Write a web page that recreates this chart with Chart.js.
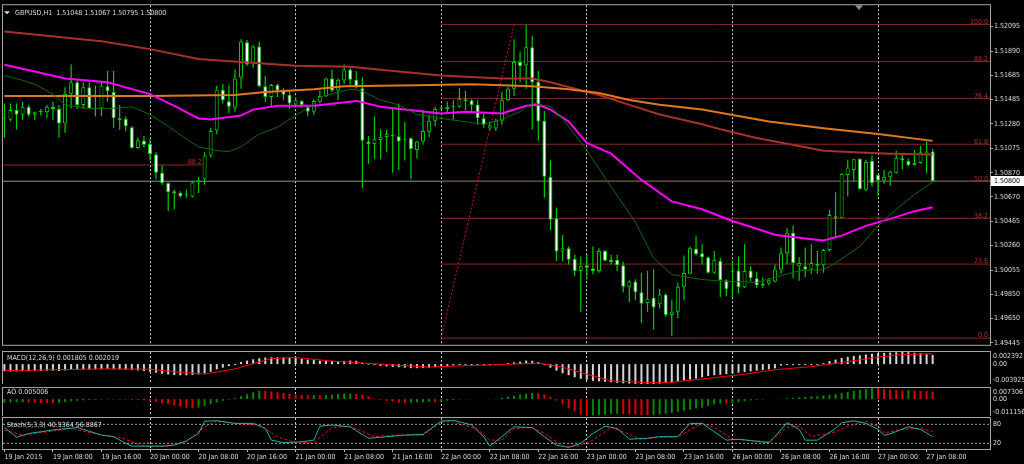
<!DOCTYPE html>
<html>
<head>
<meta charset="utf-8">
<script src="https://cdn.jsdelivr.net/npm/chart.js"></script>
<style>
  html, body { margin: 0; padding: 0; background: #000; }
  body { width: 1024px; height: 464px; position: relative; overflow: hidden; }
  canvas { position: absolute; left: 0; }
</style>
</head>
<body>
<canvas id="mainChart" width="1024" height="350" style="top:0px"></canvas>
<canvas id="macdChart" width="1024" height="34" style="top:350px"></canvas>
<canvas id="aoChart" width="1024" height="31" style="top:385px"></canvas>
<canvas id="stochChart" width="1024" height="48" style="top:416px"></canvas>
<script>
// GBPUSD H1, 19 Jan 2015 00:00 .. 27 Jan 2015 09:00 (154 bars)
const candleOpen = [
  1.51326,1.51315,1.51397,1.51356,1.51424,1.51356,1.51383,1.51377,1.51424,1.51405,
  1.51283,1.51533,1.51629,1.51438,1.51588,1.51410,1.51410,1.51596,1.51547,1.51328,
  1.51324,1.51252,1.51078,1.51138,1.51111,1.51023,1.50870,1.50784,1.50715,1.50702,
  1.50688,1.50669,1.50789,1.50816,1.51015,1.51225,1.51566,1.51471,1.51416,1.51670,
  1.51964,1.51792,1.51929,1.51596,1.51506,1.51607,1.51561,1.51525,1.51443,1.51473,
  1.51424,1.51383,1.51465,1.51514,1.51661,1.51561,1.51643,1.51737,1.51651,1.51580,
  1.51132,1.51111,1.51146,1.51171,1.51189,1.51176,1.51146,1.51160,1.51062,1.51132,
  1.51214,1.51307,1.51410,1.51405,1.51424,1.51424,1.51487,1.51479,1.51443,1.51328,
  1.51242,1.51242,1.51307,1.51479,1.51574,1.51798,1.51770,1.51923,1.51634,1.51307,
  1.50838,1.50489,1.50211,1.50238,1.50150,1.50047,1.50096,1.50069,1.50047,1.50216,
  1.50142,1.50142,1.50096,1.49911,1.49960,1.49870,1.49780,1.49823,1.49769,1.49851,
  1.49679,1.49706,1.49916,1.50025,1.50234,1.50197,1.50162,1.50033,1.50134,1.49970,
  1.50042,1.50052,1.49911,1.50052,1.49987,1.49943,1.49943,1.49960,1.50060,1.50197,
  1.50369,1.50088,1.50088,1.50060,1.50088,1.50096,1.50224,1.50489,1.50489,1.50852,
  1.50893,1.50988,1.50729,1.50969,1.50852,1.50805,1.50833,1.50870,1.50993,1.50969,
  1.50933,1.50952,1.51021,1.51048];
const candleHigh = [
  1.51451,1.51451,1.51451,1.51465,1.51438,1.51383,1.51405,1.51438,1.51465,1.51438,
  1.51588,1.51778,1.51643,1.51629,1.51629,1.51602,1.51634,1.51724,1.51724,1.51438,
  1.51342,1.51261,1.51165,1.51179,1.51152,1.51042,1.50933,1.50789,1.50729,1.50715,
  1.50729,1.50797,1.50838,1.51042,1.51247,1.51602,1.51615,1.51607,1.51737,1.51989,
  1.51983,1.51942,1.51970,1.51683,1.51615,1.51615,1.51580,1.51561,1.51506,1.51479,
  1.51438,1.51487,1.51561,1.51670,1.51737,1.51661,1.51778,1.51751,1.51724,1.51670,
  1.51179,1.51342,1.51234,1.51234,1.51405,1.51451,1.51296,1.51171,1.51138,1.51397,
  1.51356,1.51424,1.51424,1.51465,1.51479,1.51580,1.51555,1.51487,1.51479,1.51369,
  1.51301,1.51324,1.51547,1.51588,1.51989,1.51888,1.52112,1.52016,1.51724,1.51389,
  1.50974,1.50579,1.50347,1.50252,1.50183,1.50170,1.50183,1.50252,1.50238,1.50224,
  1.50183,1.50183,1.50123,1.49970,1.49979,1.50033,1.50047,1.50060,1.49897,1.49862,
  1.49802,1.49952,1.50178,1.50252,1.50342,1.50271,1.50170,1.50216,1.50156,1.49979,
  1.50134,1.50170,1.50271,1.50088,1.50042,1.49993,1.49987,1.50101,1.50244,1.50407,
  1.50429,1.50162,1.50244,1.50271,1.50216,1.50232,1.50560,1.50707,1.50865,1.50980,
  1.50988,1.50992,1.50980,1.51015,1.50856,1.50893,1.50887,1.51056,1.51023,1.50988,
  1.51062,1.51097,1.51132,1.51067];
const candleLow = [
  1.51165,1.51301,1.51234,1.51315,1.51342,1.51315,1.51350,1.51328,1.51315,1.51165,
  1.51206,1.51410,1.51405,1.51405,1.51405,1.51342,1.51342,1.51465,1.51247,1.51234,
  1.51220,1.51075,1.51070,1.51083,1.50974,1.50816,1.50770,1.50551,1.50565,1.50661,
  1.50661,1.50666,1.50702,1.50770,1.51001,1.51193,1.51451,1.51369,1.51383,1.51574,
  1.51765,1.51751,1.51588,1.51465,1.51424,1.51506,1.51479,1.51405,1.51438,1.51416,
  1.51342,1.51356,1.51451,1.51506,1.51547,1.51479,1.51615,1.51602,1.51574,1.50743,
  1.50947,1.50988,1.50988,1.51042,1.50870,1.50892,1.50974,1.50816,1.50988,1.51105,
  1.51171,1.51261,1.51397,1.51369,1.51315,1.51416,1.51397,1.51389,1.51274,1.51247,
  1.51225,1.51220,1.51274,1.51471,1.51514,1.51629,1.51574,1.51234,1.51138,1.50661,
  1.50388,1.50129,1.50129,1.50101,1.50006,1.49706,1.49979,1.50020,1.50033,1.50129,
  1.50101,1.50047,1.49870,1.49788,1.49802,1.49611,1.49706,1.49557,1.49733,1.49665,
  1.49502,1.49652,1.49802,1.50020,1.50178,1.50101,1.50025,1.50025,1.49829,1.49835,
  1.49829,1.49856,1.49905,1.49960,1.49905,1.49905,1.49925,1.49952,1.50025,1.50101,
  1.49987,1.49966,1.49998,1.50025,1.50025,1.50033,1.50211,1.50334,1.50489,1.50674,
  1.50797,1.50729,1.50715,1.50756,1.50674,1.50778,1.50762,1.50865,1.50898,1.50925,
  1.50930,1.50947,1.50865,1.50795];
const candleClose = [
  1.51334,1.51397,1.51356,1.51424,1.51356,1.51377,1.51381,1.51424,1.51405,1.51283,
  1.51533,1.51629,1.51438,1.51588,1.51410,1.51408,1.51602,1.51553,1.51328,1.51310,
  1.51261,1.51078,1.51144,1.51105,1.51029,1.50870,1.50784,1.50707,1.50696,1.50674,
  1.50686,1.50792,1.50808,1.51015,1.51220,1.51566,1.51479,1.51424,1.51661,1.51970,
  1.51778,1.51929,1.51596,1.51506,1.51607,1.51561,1.51525,1.51451,1.51479,1.51438,
  1.51383,1.51473,1.51514,1.51661,1.51561,1.51651,1.51737,1.51651,1.51588,1.51138,
  1.51111,1.51152,1.51173,1.51197,1.51176,1.51132,1.51144,1.51070,1.51132,1.51220,
  1.51307,1.51405,1.51408,1.51424,1.51430,1.51492,1.51471,1.51438,1.51328,1.51274,
  1.51269,1.51307,1.51479,1.51574,1.51798,1.51765,1.51923,1.51629,1.51301,1.50838,
  1.50478,1.50211,1.50238,1.50142,1.50047,1.50088,1.50074,1.50047,1.50216,1.50134,
  1.50123,1.50096,1.49916,1.49960,1.49870,1.49774,1.49815,1.49742,1.49851,1.49679,
  1.49706,1.49916,1.50031,1.50238,1.50189,1.50162,1.50033,1.50142,1.49970,1.49897,
  1.50045,1.49911,1.50047,1.49987,1.49925,1.49925,1.49970,1.50060,1.50197,1.50369,
  1.50115,1.50115,1.50060,1.50115,1.50107,1.50224,1.50516,1.50506,1.50860,1.50915,
  1.50985,1.50735,1.50960,1.50784,1.50805,1.50838,1.50879,1.50996,1.50974,1.50933,
  1.50952,1.51042,1.51048,1.50800];

// moving averages, read at a few bars each
const maSlowIdx = [0,16,24,32,39,48,57,65,72,82,87,90,95,98,103,108,115,118,124,129,135,141,146,153];
const maSlowVal = [1.52054,1.51972,1.51907,1.51825,1.51800,1.51768,1.51759,1.51719,1.51686,1.51661,1.51661,1.51629,
  1.51563,1.51522,1.51440,1.51359,1.51277,1.51236,1.51162,1.51113,1.51056,1.51040,1.51031,1.51023];
const maMidIdx = [0,24,38,43,51,56,68,77,87,93,98,103,108,115,126,135,144,153];
const maMidVal = [1.51514,1.51514,1.51522,1.51547,1.51571,1.51596,1.51604,1.51612,1.51596,1.51571,1.51539,1.51481,
  1.51440,1.51400,1.51301,1.51244,1.51195,1.51138];
const maFastIdx = [0,5,10,17,24,28,32,34,39,41,45,51,54,58,62,66,72,76,82,86,88,90,93,96,100,105,110,115,120,124,
  127,132,135,138,142,146,150,153];
const maFastVal = [1.51776,1.51719,1.51661,1.51629,1.51530,1.51432,1.51326,1.51318,1.51350,1.51400,1.51432,1.51432,
  1.51449,1.51473,1.51424,1.51400,1.51367,1.51383,1.51367,1.51432,1.51440,1.51400,1.51301,1.51121,1.51031,1.50811,
  1.50631,1.50565,1.50467,1.50402,1.50352,1.50320,1.50303,1.50344,1.50426,1.50484,1.50549,1.50582];
const maTrendIdx = [0,3,5,8,10,14,17,21,24,27,30,32,35,37,39,42,45,48,51,52,57,59,62,65,68,72,79,82,85,87,90,92,96,
  100,104,107,110,115,119,124,127,131,135,137,141,144,147,150,153];
const maTrendVal = [1.51686,1.51645,1.51612,1.51530,1.51440,1.51408,1.51408,1.51424,1.51359,1.51261,1.51154,1.51089,
  1.51056,1.51048,1.51089,1.51195,1.51252,1.51350,1.51449,1.51506,1.51571,1.51555,1.51481,1.51440,1.51359,1.51326,
  1.51277,1.51318,1.51383,1.51457,1.51424,1.51326,1.51056,1.50753,1.50459,1.50156,1.50017,1.49976,1.49960,1.49952,
  1.49993,1.50050,1.50058,1.50115,1.50254,1.50426,1.50565,1.50688,1.50794];

// fibonacci retracement and other objects
const fibLevels = [0, 23.6, 38.2, 50.0, 61.8, 76.4, 88.2, 100.0];
const fibLow = 1.49485, fibHigh = 1.52114;
const fibLowIdx = 72, fibHighIdx = 84;
const oldFibPrice = 1.50936, oldFibEndIdx = 32.7;
const bidPrice = 1.50800;

// MACD(12,26,9)
const macdHist = [
  -0.00140,-0.00145,-0.00145,-0.00140,-0.00140,-0.00135,-0.00135,-0.00130,-0.00130,-0.00135,
  -0.00125,-0.00115,-0.00110,-0.00105,-0.00105,-0.00105,-0.00100,-0.00095,-0.00100,-0.00105,
  -0.00110,-0.00115,-0.00125,-0.00135,-0.00150,-0.00170,-0.00190,-0.00205,-0.00215,-0.00220,
  -0.00220,-0.00215,-0.00205,-0.00185,-0.00150,-0.00105,-0.00070,-0.00040,-0.00010,0.00040,
  0.00070,0.00095,0.00115,0.00130,0.00135,0.00135,0.00135,0.00130,0.00120,0.00105,
  0.00090,0.00080,0.00070,0.00070,0.00065,0.00060,0.00065,0.00070,0.00065,0.00030,
  0.00000,-0.00020,-0.00035,-0.00045,-0.00055,-0.00060,-0.00070,-0.00080,-0.00080,-0.00075,
  -0.00070,-0.00060,-0.00045,-0.00035,-0.00025,-0.00020,-0.00015,-0.00015,-0.00020,-0.00025,
  -0.00025,-0.00020,-0.00010,0.00010,0.00035,0.00050,0.00070,0.00065,0.00040,-0.00010,
  -0.00070,-0.00130,-0.00180,-0.00220,-0.00260,-0.00290,-0.00310,-0.00330,-0.00340,-0.00350,
  -0.00360,-0.00370,-0.00380,-0.00385,-0.00390,-0.003925,-0.00390,-0.00392,-0.00385,-0.00375,
  -0.00360,-0.00347,-0.00325,-0.00305,-0.00285,-0.00260,-0.00235,-0.00220,-0.00210,-0.00196,
  -0.00184,-0.00169,-0.00155,-0.00143,-0.00129,-0.00114,-0.00102,-0.00082,-0.00030,-0.00020,
  -0.00015,-0.00012,-0.00010,-0.00008,-0.00005,0.00020,0.00060,0.00090,0.00123,0.00143,
  0.00163,0.00175,0.00190,0.00205,0.00215,0.00222,0.00228,0.00234,0.002392,0.00236,
  0.00225,0.00215,0.00205,0.001805];
const macdSigIdx = [0,16,24,28,33,38,44,48,54,62,70,76,82,88,92,96,100,105,110,116,122,127,133,138,144,148,153];
const macdSigVal = [-0.00129,-0.00095,-0.00100,-0.00150,-0.00196,-0.00095,0.00110,0.00130,0.00060,0.00000,
  -0.00060,-0.00030,-0.00006,0.00020,-0.00060,-0.00200,-0.00330,-0.00360,-0.00360,-0.00280,
  -0.00200,-0.00110,-0.00050,0.00030,0.00140,0.00190,0.002019];

// Awesome Oscillator
const aoVals = [
  -0.0024,-0.0023,-0.0021,-0.0020,-0.0022,-0.0024,-0.0026,-0.0027,-0.00275,-0.0024,
  -0.0020,-0.0015,-0.0011,-0.0008,-0.0006,-0.0005,-0.0004,-0.00035,-0.0003,-0.00035,
  -0.0004,-0.0005,-0.0006,-0.0008,-0.0012,-0.0018,-0.0026,-0.0034,-0.0042,-0.0050,
  -0.0056,-0.0059,-0.0055,-0.0045,-0.0034,-0.0022,-0.0012,-0.0004,0.0006,0.0018,
  0.0032,0.0045,0.0055,0.0054,0.0050,0.0045,0.0040,0.0035,0.0030,0.0027,
  0.0025,0.0026,0.0024,0.0027,0.0030,0.0033,0.0036,0.0037,0.0033,0.0028,
  0.0018,0.0005,-0.0005,-0.0012,-0.0018,-0.0024,-0.0028,-0.0025,-0.0022,-0.0020,
  -0.0018,-0.0020,-0.0015,-0.0010,-0.0006,-0.0003,-0.0002,-0.0001,0.0000,0.0001,
  0.0002,0.0003,0.0008,0.0015,0.0022,0.0030,0.0036,0.0041,0.0038,0.0030,
  0.0015,-0.0010,-0.0035,-0.0060,-0.0080,-0.0100,-0.011156,-0.0108,-0.0105,-0.0103,
  -0.0100,-0.0097,-0.0099,-0.0101,-0.0103,-0.0105,-0.0106,-0.0104,-0.0101,-0.0097,
  -0.0092,-0.0085,-0.0078,-0.0070,-0.0062,-0.0055,-0.0045,-0.0035,-0.0028,-0.0030,
  -0.0026,-0.0020,-0.0014,-0.0009,-0.0005,-0.0003,-0.0001,0.0000,0.0002,0.0005,
  0.0008,0.0011,0.0014,0.0017,0.0020,0.0024,0.0028,0.0033,0.0040,0.0047,
  0.0054,0.0060,0.0066,0.007306,0.0070,0.0066,0.0063,0.0060,0.0057,0.0058,
  0.0056,0.0054,0.0052,0.005006];

// Stochastic(5,3,3)
const stochMainIdx = [0,2,4,8,12,16,18,20,21,24,26,28,30,32,33,35,38,41,43,44,46,49,51,52,54,57,60,62,66,69,
  72,74,77,79,80,82,84,87,89,91,93,95,97,99,101,103,106,108,111,113,115,119,121,126,127,129,131,132,134,137,
  138,140,142,144,145,146,149,151,153];
const stochMainVal = [70,39,51,62,70,46,41,20,11,11,11,14,28,51,90,91,83,83,67,30,22,25,30,74,78,72,36,39,46,48,
  90,93,78,41,11,41,72,70,41,14,7,20,51,74,67,33,36,41,41,83,83,30,33,22,41,85,64,30,30,67,
  85,91,83,64,45,50,72,64,40.94];
const stochSigIdx = [0,3,5,11,16,19,23,27,30,33,35,38,42,45,48,51,54,57,61,65,69,72,74,78,80,82,84,87,89,92,
  94,97,100,102,105,108,111,115,117,120,122,126,129,131,133,137,139,142,144,145,148,151,153];
const stochSigVal = [62,46,51,67,46,39,11,11,25,72,91,83,78,41,22,22,70,74,41,46,46,88,88,64,30,30,67,70,51,11,
  9,30,70,56,33,39,41,83,70,33,30,25,70,74,41,56,74,90,74,53,64,67,56.89];
const stochLevels = [80, 20];

// axes
const priceTicks = [1.52095,1.51890,1.51685,1.51485,1.51280,1.51075,1.50870,1.50670,1.50465,1.50260,
  1.50055,1.49850,1.49650,1.49445];
const tickIdx = [0,8,16,24,32,40,48,56,64,72,80,88,96,104,112,120,128,136,144,152];
const timeLabels = ["19 Jan 2015","19 Jan 08:00","19 Jan 16:00","20 Jan 00:00","20 Jan 08:00","20 Jan 16:00",
  "21 Jan 00:00","21 Jan 08:00","21 Jan 16:00","22 Jan 00:00","22 Jan 08:00","22 Jan 16:00","23 Jan 00:00",
  "23 Jan 08:00","23 Jan 16:00","26 Jan 00:00","26 Jan 08:00","26 Jan 16:00","27 Jan 00:00","27 Jan 08:00"];
const dayIdx = [24, 48, 72, 96, 120, 144];

const X_MIN = -0.23, X_MAX = 162.45;
const FRAME = '#a4a4a4';
const TEXT = '#dedede';
const GREEN = '#00cc00';
const FIB_LINE = '#8c2626';
const FIB_TEXT = '#b03030';

// narrow font if there is one, sized so a price label is about 26px
function pickFont() {
  const c = document.createElement('canvas').getContext('2d');
  const probe = '1.52095 19 Jan 08:00';
  const w = f => { c.font = '20px ' + f; return c.measureText(probe).width; };
  const mono = w('monospace');
  let fam = "'Liberation Sans'";
  for (const f of ["'Liberation Sans Narrow'", "'DejaVu Sans Condensed'"]) {
    if (Math.abs(w(f + ', monospace') - mono) > 0.5) { fam = f; break; }
  }
  c.font = '20px ' + fam;
  const size = Math.min(9, 20 * 26 / c.measureText('1.52095').width);
  return { family: fam + ', sans-serif', size: Math.round(size * 2) / 2 };
}
const FONT = pickFont();
const FONT_CSS = FONT.size + 'px ' + FONT.family;

Chart.defaults.font.family = FONT.family;
Chart.defaults.font.size = FONT.size;
Chart.defaults.color = TEXT;

const decor = {
  id: 'decor',
  afterDatasetsDraw(chart, args, o) {
    const { ctx, chartArea: a, scales } = chart;
    const ys = scales.y, xs = scales.x;
    ctx.save();
    ctx.font = FONT_CSS;
    ctx.strokeStyle = FRAME;
    ctx.lineWidth = 1;
    ctx.strokeRect(a.left - 0.5, a.top - 0.5, a.right - a.left + 1, a.bottom - a.top + 1);

    ctx.textBaseline = 'middle';
    ctx.textAlign = 'left';
    ctx.fillStyle = TEXT;
    if (o.title) ctx.fillText(o.title, a.left + o.titleX, a.top + o.titleY);
    if (o.titleArrow) {
      ctx.beginPath();
      ctx.moveTo(a.left + 1, a.top + 6); ctx.lineTo(a.left + 7, a.top + 6); ctx.lineTo(a.left + 4, a.top + 9);
      ctx.closePath(); ctx.fill();
      // chart shift marker
      ctx.fillStyle = '#8a8a8a';
      ctx.beginPath();
      ctx.moveTo(a.right - 135, a.top); ctx.lineTo(a.right - 127, a.top); ctx.lineTo(a.right - 131, a.top + 5);
      ctx.closePath(); ctx.fill();
      ctx.fillStyle = TEXT;
    }
    (o.sideLabels || []).forEach(l => {
      ctx.fillText(l.text, a.right + 3, ys.getPixelForValue(l.value) + l.dy);
    });
    if (o.levelLabels) {
      ctx.fillStyle = FIB_TEXT;
      ctx.textAlign = 'right';
      ctx.textBaseline = 'bottom';
      o.levelLabels.forEach(l => {
        const xr = l.xEnd === undefined ? a.right - 2 : xs.getPixelForValue(l.xEnd) - 1;
        ctx.fillText(l.text, xr, ys.getPixelForValue(l.value) + 1);
      });
    }
    if (o.bid !== undefined) {
      const py = Math.round(ys.getPixelForValue(o.bid));
      ctx.fillStyle = '#ffffff';
      ctx.fillRect(a.right + 1, py - 5, chart.width - a.right - 1, 10);
      ctx.fillStyle = '#000000';
      ctx.textAlign = 'left';
      ctx.textBaseline = 'middle';
      ctx.fillText(o.bid.toFixed(5), a.right + 4, py);
    }
    ctx.restore();
  }
};

function xAxis(showLabels) {
  return {
    type: 'linear', min: X_MIN, max: X_MAX, offset: false,
    afterBuildTicks: s => { s.ticks = tickIdx.map(v => ({ value: v })); },
    afterFit: s => { s.height = showLabels ? 15 : 0; },
    grid: {
      offset: false,
      color: c => (c.tick && dayIdx.includes(c.tick.value)) ? '#cfcfcf' : 'rgba(0,0,0,0)',
      drawTicks: showLabels, tickLength: 3, tickColor: '#bdbdbd'
    },
    border: { display: false, dash: [2, 2] },
    ticks: {
      display: showLabels, autoSkip: false, maxRotation: 0, align: 'start', padding: 1,
      color: TEXT, callback: (v, k) => timeLabels[k]
    }
  };
}

function sideAxis(min, max) {
  return {
    type: 'linear', position: 'right', min: min, max: max,
    afterFit: s => { s.width = 34; },
    grid: { display: false },
    ticks: { display: false },
    border: { display: true, color: FRAME }
  };
}

function lineDs(xsArr, ysArr, color, width, order, dash) {
  return {
    type: 'line', order: order,
    data: xsArr.map((x, k) => ({ x: x, y: ysArr[k] })),
    borderColor: color, borderWidth: width, borderDash: dash || [],
    pointRadius: 0, tension: 0, fill: false
  };
}

const barIdx = candleOpen.map((_, k) => k);
const baseOpts = (padding, scales, decorOpts) => ({
  responsive: false, animation: false, devicePixelRatio: 1, events: [],
  layout: { padding: padding },
  plugins: { legend: { display: false }, tooltip: { enabled: false }, decor: decorOpts },
  scales: scales
});

// main price window
const fibDatasets = fibLevels.map(r => {
  const p = fibLow + r / 100 * (fibHigh - fibLow);
  return lineDs([fibLowIdx, X_MAX], [p, p], FIB_LINE, 1, 4);
});
new Chart(document.getElementById('mainChart'), {
  type: 'bar',
  data: {
    datasets: [
      lineDs(maTrendIdx, maTrendVal, '#0b6a0b', 1, 0),
      lineDs(maFastIdx, maFastVal, '#ff00ff', 2, 0),
      lineDs(maMidIdx, maMidVal, '#e2781c', 2, 0),
      lineDs(maSlowIdx, maSlowVal, '#a83028', 2, 0),
      {
        type: 'bar', order: 1, grouped: false,
        data: barIdx.map(k => ({ x: k, y: [candleOpen[k], candleClose[k]] })),
        backgroundColor: barIdx.map(k => candleClose[k] >= candleOpen[k] ? '#000000' : '#ffffff'),
        borderColor: GREEN, borderWidth: 1, borderSkipped: false,
        barThickness: 4, minBarLength: 1, inflateAmount: 0
      },
      {
        type: 'bar', order: 2, grouped: false,
        data: barIdx.map(k => ({ x: k, y: [candleLow[k], candleHigh[k]] })),
        backgroundColor: GREEN, borderWidth: 0, barThickness: 1.2, inflateAmount: 0
      },
      lineDs([fibLowIdx, fibHighIdx], [fibLow, fibHigh], '#d01818', 1, 3, [2, 2]),
      ...fibDatasets,
      lineDs([X_MIN, oldFibEndIdx], [oldFibPrice, oldFibPrice], FIB_LINE, 1, 4),
      lineDs([X_MIN, X_MAX], [bidPrice, bidPrice], '#8a939c', 1, 5)
    ]
  },
  options: baseOpts({ top: 1, bottom: 1, left: 3, right: 0 }, {
    x: xAxis(false),
    y: {
      type: 'linear', position: 'right', min: 1.49429, max: 1.52275,
      afterBuildTicks: s => { s.ticks = priceTicks.map(v => ({ value: v })); },
      afterFit: s => { s.width = 34; },
      grid: { drawOnChartArea: false, drawTicks: true, tickLength: 3, tickColor: FRAME },
      border: { display: true, color: FRAME },
      ticks: { autoSkip: false, padding: 1, color: TEXT, callback: v => v.toFixed(5) }
    }
  }, {
    title: 'GBPUSD,H1  1.51048 1.51067 1.50795 1.50800', titleX: 12, titleY: 8, titleArrow: true,
    levelLabels: fibLevels.map(r => ({ text: r.toFixed(1), value: fibLow + r / 100 * (fibHigh - fibLow) }))
      .concat([{ text: '88.2', value: oldFibPrice, xEnd: oldFibEndIdx }]),
    bid: bidPrice
  }),
  plugins: [decor]
});

// MACD window
new Chart(document.getElementById('macdChart'), {
  type: 'bar',
  data: {
    datasets: [
      lineDs(macdSigIdx, macdSigVal, '#ff0000', 1, 0),
      {
        type: 'bar', order: 1, grouped: false,
        data: barIdx.map(k => ({ x: k, y: macdHist[k] })),
        backgroundColor: '#d6d6d6', barThickness: 2, minBarLength: 1, inflateAmount: 0
      }
    ]
  },
  options: baseOpts({ top: 2, bottom: 0, left: 3, right: 0 }, {
    x: xAxis(false),
    y: sideAxis(-0.003925, 0.002392)
  }, {
    title: 'MACD(12,26,9) 0.001805 0.002019', titleX: 4, titleY: 6,
    sideLabels: [
      { text: '0.002392', value: 0.002392, dy: 4 },
      { text: '0.00', value: 0, dy: 0 },
      { text: '-0.003925', value: -0.003925, dy: -4 }
    ]
  }),
  plugins: [decor]
});

// AO window
new Chart(document.getElementById('aoChart'), {
  type: 'bar',
  data: {
    datasets: [{
      type: 'bar', grouped: false,
      data: barIdx.map(k => ({ x: k, y: aoVals[k] })),
      backgroundColor: barIdx.map(k => (k === 0 || aoVals[k] >= aoVals[k - 1]) ? '#008a00' : '#e00000'),
      barThickness: 2, inflateAmount: 0
    }]
  },
  options: baseOpts({ top: 3, bottom: 0, left: 3, right: 0 }, {
    x: xAxis(false),
    y: sideAxis(-0.011156, 0.007306)
  }, {
    title: 'AO 0.005006', titleX: 4, titleY: 4,
    sideLabels: [
      { text: '0.007306', value: 0.007306, dy: 4 },
      { text: '0.00', value: 0, dy: 0 },
      { text: '-0.011156', value: -0.011156, dy: -4 }
    ]
  }),
  plugins: [decor]
});

// Stochastic window with the time axis
new Chart(document.getElementById('stochChart'), {
  type: 'line',
  data: {
    datasets: [
      lineDs(stochMainIdx, stochMainVal, '#20b2aa', 1, 0),
      lineDs(stochSigIdx, stochSigVal, '#ff0000', 1, 1, [3, 2]),
      ...stochLevels.map(v => lineDs([X_MIN, X_MAX], [v, v], '#a8a8a8', 1, 2, [2, 2]))
    ]
  },
  options: baseOpts({ top: 2, bottom: 0, left: 3, right: 0 }, {
    x: xAxis(true),
    y: sideAxis(2, 100)
  }, {
    title: 'Stoch(5,3,3) 40.9364 56.8867', titleX: 4, titleY: 7,
    sideLabels: stochLevels.map(v => ({ text: String(v), value: v, dy: 0 }))
  }),
  plugins: [decor]
});
</script>
</body>
</html>
